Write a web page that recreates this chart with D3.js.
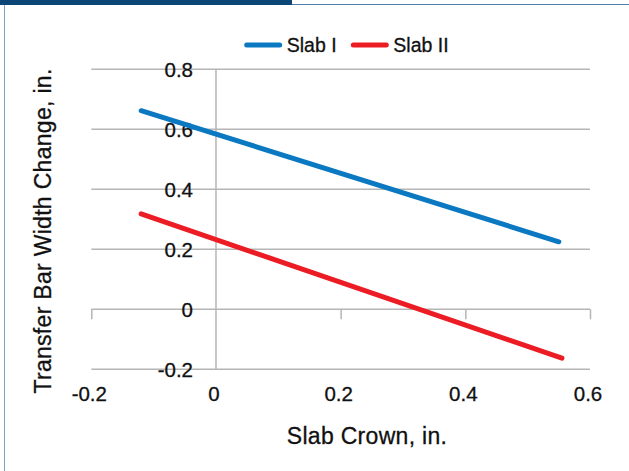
<!DOCTYPE html>
<html>
<head>
<meta charset="utf-8">
<script src="https://cdn.jsdelivr.net/npm/d3@7"></script>
<style>
  html, body { margin: 0; padding: 0; background: #fff; }
  text { font-family: "Liberation Sans", Arial, sans-serif; fill: #111; stroke: #111; stroke-width: 0.3px; }
</style>
</head>
<body>
<div id="chart"></div>
<script>
const seriesNames = ['Slab I', 'Slab II']
const seriesColors = ['#0b78c2', '#ec1c24']
const slabIx = [-0.12, 0.55]
const slabIy = [0.662, 0.225]
const slabIIx = [-0.12, 0.555]
const slabIIy = [0.318, -0.163]
const xTicks = [-0.2, 0, 0.2, 0.4, 0.6]
const yTicks = [-0.2, 0, 0.2, 0.4, 0.6, 0.8]
const xTitle = 'Slab Crown, in.'
const yTitle = 'Transfer Bar Width Change, in.'

const width = 629
const height = 471

const series = [
  { name: seriesNames[0], color: seriesColors[0], pts: slabIx.map((x, i) => ({ x, y: slabIy[i] })) },
  { name: seriesNames[1], color: seriesColors[1], pts: slabIIx.map((x, i) => ({ x, y: slabIIy[i] })) }
]

// plain hyphen for negatives, like the source chart
const fmt = d => String(d)

const xScale = d3.scaleLinear().domain([-0.2, 0.6]).range([91.3, 590])
const yScale = d3.scaleLinear().domain([-0.2, 0.8]).range([369.3, 69.3])

const svg = d3.select('#chart').append('svg')
  .attr('width', width)
  .attr('height', height)

// frame
svg.append('line')
  .attr('x1', 0).attr('x2', width).attr('y1', 4.5).attr('y2', 4.5)
  .attr('stroke', '#4f7fae').attr('stroke-width', 1)
svg.append('line')
  .attr('x1', 4.5).attr('x2', 4.5).attr('y1', 4).attr('y2', height)
  .attr('stroke', '#7ea3c6').attr('stroke-width', 1)
svg.append('rect')
  .attr('x', 0).attr('y', 0).attr('width', 292).attr('height', 5)
  .attr('fill', '#0c4677')

const grid = '#b5b5b5'

// horizontal gridlines
svg.append('g').selectAll('line').data(yTicks.filter(d => d !== 0))
  .enter().append('line')
  .attr('x1', xScale(-0.2)).attr('x2', xScale(0.6))
  .attr('y1', d => yScale(d)).attr('y2', d => yScale(d))
  .attr('stroke', grid).attr('stroke-width', 1.5)

// vertical axis at x = 0
svg.append('line')
  .attr('x1', xScale(0)).attr('x2', xScale(0))
  .attr('y1', yScale(0.8)).attr('y2', yScale(-0.2))
  .attr('stroke', grid).attr('stroke-width', 1.5)

// horizontal axis at y = 0 with ticks pointing down
const xAxis = d3.axisBottom(xScale)
  .tickValues(xTicks.filter(d => d !== 0))
  .tickSize(10)
  .tickFormat('')
const xg = svg.append('g')
  .attr('transform', `translate(0, ${yScale(0)})`)
  .call(xAxis)
xg.select('.domain').attr('stroke', grid).attr('stroke-width', 1.5)
  .attr('d', `M${xScale(-0.2)},0H${xScale(0.6)}`)
xg.selectAll('.tick line').attr('stroke', grid).attr('stroke-width', 1.5)

// y tick labels
svg.append('g').selectAll('text').data(yTicks)
  .enter().append('text')
  .attr('x', 193)
  .attr('y', d => yScale(d))
  .attr('dy', '0.36em')
  .attr('text-anchor', 'end')
  .style('font-size', '20.5px')
  .text(fmt)

// x tick labels
svg.append('g').selectAll('text').data(xTicks)
  .enter().append('text')
  .attr('x', d => xScale(d) - 2)
  .attr('y', 401)
  .attr('text-anchor', 'middle')
  .style('font-size', '20.5px')
  .text(fmt)

// series lines
const line = d3.line().x(d => xScale(d.x)).y(d => yScale(d.y))
svg.append('g').selectAll('path').data(series)
  .enter().append('path')
  .attr('d', d => line(d.pts))
  .attr('fill', 'none')
  .attr('stroke', d => d.color)
  .attr('stroke-width', 5)
  .attr('stroke-linecap', 'round')

// legend
const legendX = [246.7, 353.3]
const lg = svg.append('g').selectAll('g').data(series)
  .enter().append('g')
  .attr('transform', (d, i) => `translate(${legendX[i]}, 45)`)
lg.append('line')
  .attr('x1', 0).attr('x2', 33)
  .attr('stroke', d => d.color)
  .attr('stroke-width', 5)
  .attr('stroke-linecap', 'round')
lg.append('text')
  .attr('x', 40)
  .attr('y', 6.5)
  .style('font-size', '19.5px')
  .text(d => d.name)

// axis titles
svg.append('text')
  .attr('x', 367)
  .attr('y', 444)
  .attr('text-anchor', 'middle')
  .style('font-size', '23px')
  .style('letter-spacing', '0.3px')
  .text(xTitle)

svg.append('text')
  .attr('transform', 'translate(51, 231) rotate(-90)')
  .attr('text-anchor', 'middle')
  .style('font-size', '23px')
  .style('letter-spacing', '0.3px')
  .text(yTitle)
</script>
</body>
</html>
